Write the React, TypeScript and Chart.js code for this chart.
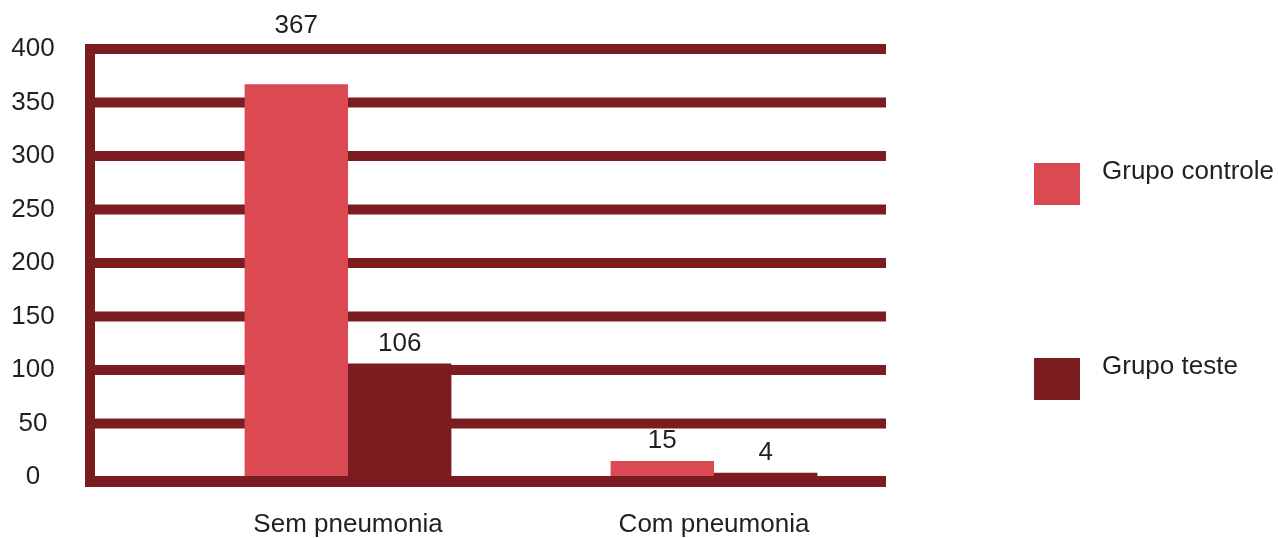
import React, { useEffect, useRef } from 'react';
import { Chart, registerables } from 'chart.js';

Chart.register(...registerables);

const categories = ['Sem pneumonia', 'Com pneumonia'];
const seriesNames = ['Grupo controle', 'Grupo teste'];
const controleValues = [367, 15];
const testeValues = [106, 4];
const yMin = 0;
const yMax = 400;
const yStep = 50;

const LIGHT = '#db4a53';
const DARK = '#7b1c20';
const TEXT = '#231f20';
const FONT = '"Liberation Sans", Arial, Helvetica, sans-serif';

const W = 1278;
const H = 538;
const GRID_LEFT = 85;
const GRID_RIGHT = 886;
const YLABEL_X = 33;

const gridPlugin = {
  id: 'thickGrid',
  beforeDatasetsDraw(chart: any) {
    const { ctx } = chart;
    const y = chart.scales.y;
    ctx.save();
    ctx.strokeStyle = DARK;
    ctx.lineWidth = 10;
    y.ticks.forEach((t: any) => {
      if (t.value === yMin) return;
      const py = y.getPixelForValue(t.value);
      ctx.beginPath();
      ctx.moveTo(GRID_LEFT, py);
      ctx.lineTo(GRID_RIGHT, py);
      ctx.stroke();
    });
    // y tick labels
    ctx.fillStyle = TEXT;
    ctx.font = `26px ${FONT}`;
    ctx.textAlign = 'center';
    ctx.textBaseline = 'middle';
    y.ticks.forEach((t: any) => {
      const py = y.getPixelForValue(t.value);
      ctx.fillText(String(t.value), YLABEL_X, py);
    });
    ctx.restore();
  },
  afterDatasetsDraw(chart: any) {
    const { ctx, chartArea } = chart;
    const y = chart.scales.y;
    const py0 = y.getPixelForValue(yMin);
    const pyTop = y.getPixelForValue(yMax);
    ctx.save();
    ctx.strokeStyle = DARK;
    // baseline (drawn just under the bars' base)
    ctx.lineWidth = 11;
    ctx.beginPath();
    ctx.moveTo(GRID_LEFT, py0 + 4.5);
    ctx.lineTo(GRID_RIGHT, py0 + 4.5);
    ctx.stroke();
    // vertical axis
    ctx.lineWidth = 10;
    ctx.beginPath();
    ctx.moveTo(GRID_LEFT + 5, pyTop - 5);
    ctx.lineTo(GRID_LEFT + 5, py0 + 10);
    ctx.stroke();

    // value labels
    ctx.fillStyle = TEXT;
    ctx.font = `26px ${FONT}`;
    ctx.textAlign = 'center';
    ctx.textBaseline = 'middle';
    chart.data.datasets.forEach((ds: any, di: number) => {
      const meta = chart.getDatasetMeta(di);
      meta.data.forEach((bar: any, i: number) => {
        let ly = bar.y - 20;
        if (ly - 13 < chartArea.top + 8) ly = chartArea.top - 23;
        ctx.fillText(String(ds.data[i]), bar.x, ly);
      });
    });
    ctx.restore();
  },
  afterDraw(chart: any) {
    const { ctx } = chart;
    ctx.save();
    const tops = [163, 358];
    chart.data.datasets.forEach((ds: any, di: number) => {
      const top = tops[di];
      ctx.fillStyle = ds.backgroundColor;
      ctx.fillRect(1034, top, 46, 42);
      ctx.fillStyle = TEXT;
      ctx.font = `26px ${FONT}`;
      ctx.textAlign = 'left';
      ctx.textBaseline = 'middle';
      ctx.fillText(ds.label, 1102, top + 9);
    });
    ctx.restore();
  },
};

export default function App() {
  const canvasRef = useRef<HTMLCanvasElement | null>(null);

  useEffect(() => {
    if (!canvasRef.current) return;
    const chart = new Chart(canvasRef.current, {
      type: 'bar',
      data: {
        labels: categories,
        datasets: [
          {
            label: seriesNames[0],
            data: controleValues,
            backgroundColor: LIGHT,
            barPercentage: 1,
            categoryPercentage: 0.565,
          },
          {
            label: seriesNames[1],
            data: testeValues,
            backgroundColor: DARK,
            barPercentage: 1,
            categoryPercentage: 0.565,
          },
        ],
      },
      options: {
        animation: false,
        responsive: false,
        maintainAspectRatio: false,
        layout: { padding: { left: 0, right: W - 897, top: 49, bottom: 0 } },
        plugins: {
          legend: { display: false },
          tooltip: { enabled: false },
        },
        scales: {
          x: {
            grid: { display: false, drawTicks: false },
            border: { display: false },
            ticks: {
              font: { family: FONT, size: 26 },
              color: TEXT,
              padding: 32,
            },
            afterFit: (s: any) => {
              s.height = 61;
            },
          },
          y: {
            min: yMin,
            max: yMax,
            grid: { display: false, drawTicks: false },
            border: { display: false },
            ticks: {
              stepSize: yStep,
              display: false,
            },
            afterFit: (s: any) => {
              s.width = 165;
            },
          },
        },
      },
      plugins: [gridPlugin],
    } as any);
    return () => chart.destroy();
  }, []);

  return (
    <div style={{ position: 'fixed', left: 0, top: 0, width: W, height: H, background: '#fff' }}>
      <canvas ref={canvasRef} width={W} height={H} style={{ display: 'block' }} />
    </div>
  );
}
